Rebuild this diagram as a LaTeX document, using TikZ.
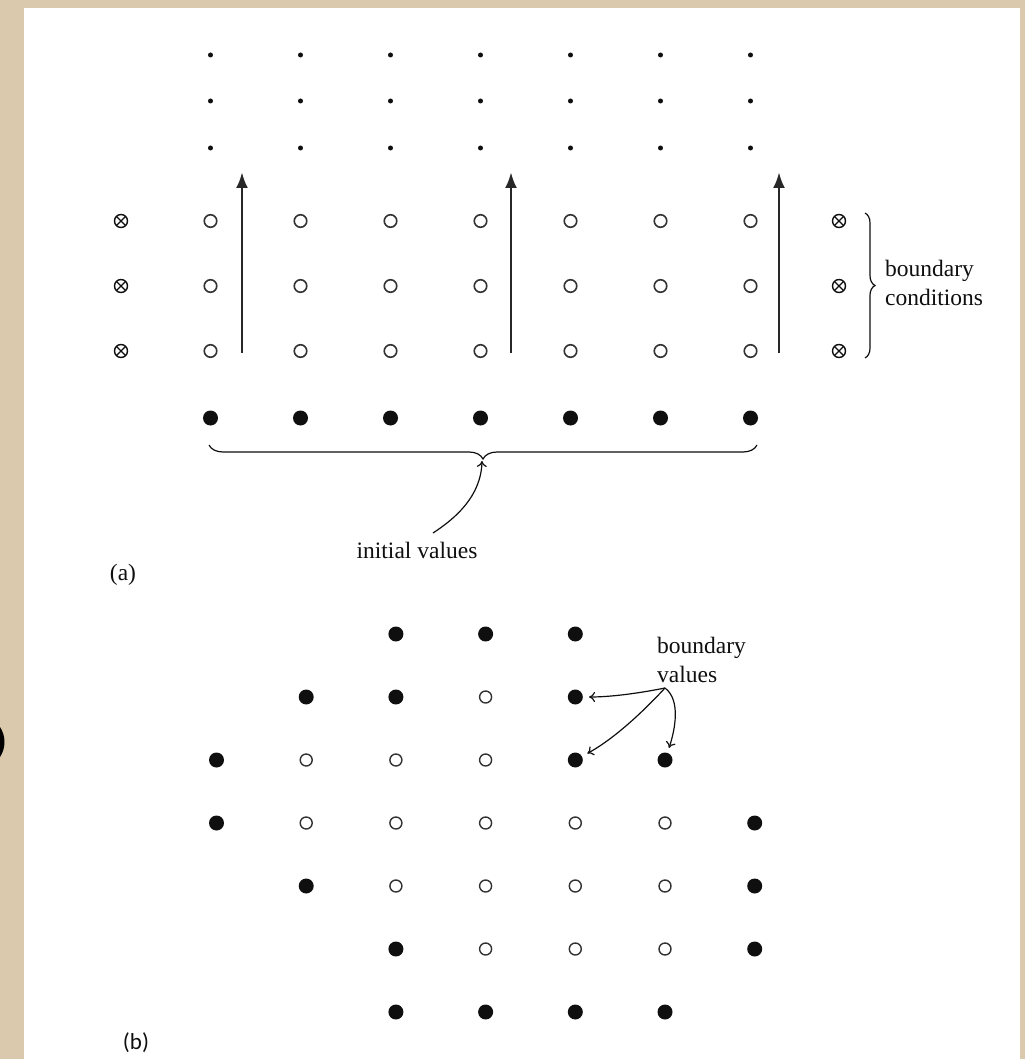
\documentclass[tikz,border=0pt]{standalone}
\usepackage{fontspec}
\setmainfont{Liberation Serif}
\newfontfamily\labfont{Carlito}
\usetikzlibrary{arrows.meta,decorations.pathreplacing}
\definecolor{beige}{RGB}{218,201,173}
\definecolor{ink}{RGB}{15,15,15}
\definecolor{ringc}{RGB}{50,50,50}
\begin{document}
\begin{tikzpicture}[x=1pt,y=-1pt,
  sdot/.style={circle,fill=ink,inner sep=0pt,minimum size=5pt},
  odot/.style={circle,draw=ringc,line width=1.6pt,inner sep=0pt,minimum size=12.5pt},
  fdot/.style={circle,fill=ink,inner sep=0pt,minimum size=15pt},
  odotb/.style={circle,draw=ringc,line width=1.4pt,inner sep=0pt,minimum size=12pt},
  xdot/.style={circle,draw=ink,line width=1.4pt,inner sep=0pt,minimum size=13pt,
    path picture={\draw[ink,line width=1.3pt] (path picture bounding box.north west) -- (path picture bounding box.south east)
      (path picture bounding box.north east) -- (path picture bounding box.south west);}},
  bigarrow/.style={draw=ink!90,line width=2.9pt,-{Latex[length=16pt,width=12pt]}},
  thinarrow/.style={draw=ink,line width=1.2pt,-{To[length=6pt,width=10pt]}},
  bracestyle/.style={draw=ink,line width=1.2pt,decorate},
  txt/.style={inner sep=0pt,font=\fontsize{23.5}{29}\selectfont,text=ink}
]
\fill[beige] (0,0) rectangle (1025,1059);
\fill[white] (23.5,8) rectangle (1020,1059);
\useasboundingbox (0,0) rectangle (1025,1059);
\fill[black] (0,727) .. controls (6,736) and (6,748) .. (0,757) -- cycle;

% ---------- part (a) ----------
\foreach \c in {0,...,6} {
  \foreach \r/\yy in {1/55,2/101,3/148}
    \node[sdot] (s\r-\c) at (210.5+90*\c,\yy) {};
  \foreach \r/\yy in {1/221,2/286,3/351}
    \node[odot] (o\r-\c) at (210.5+90*\c,\yy) {};
  \node[fdot] (f-\c) at (210.5+90*\c,418) {};
}
\foreach \r/\yy in {1/221,2/286,3/351} {
  \node[xdot] (xl\r) at (121,\yy) {};
  \node[xdot] (xr\r) at (839,\yy) {};
}
\foreach \i/\xx in {1/242,2/511,3/779} {
  \coordinate (ab\i) at (\xx,353);
  \coordinate (at\i) at (\xx,172);
  \draw[bigarrow] (ab\i) -- (at\i);
}
\draw[bracestyle,decoration={brace,mirror,amplitude=14pt}] (209,445) -- (757,445);
\coordinate (btip) at (482,461);
\draw[bracestyle,decoration={brace,amplitude=10pt}] (865,213) -- (865,358);
\node[txt,anchor=west,align=left] (bc) at (885,283) {boundary\\conditions};
\node[txt] (iv) at (417,550) {initial values};
\coordinate (ivs) at (433,533);
\draw[thinarrow] (ivs) .. controls (456,518) and (481,496) .. (btip);
\node[txt] (la) at (123,575) {(a)};

% ---------- part (b) ----------
\foreach \c in {2,3,4} \node[fdot] (b1-\c) at (216.5+89.7*\c,634) {};
\foreach \c in {1,2,4} \node[fdot] (b2-\c) at (216.5+89.7*\c,697) {};
\node[odotb] (b2-3) at (216.5+89.7*3,697) {};
\foreach \c in {0,4,5} \node[fdot] (b3-\c) at (216.5+89.7*\c,760) {};
\foreach \c in {1,2,3} \node[odotb] (b3-\c) at (216.5+89.7*\c,760) {};
\foreach \c in {0,6} \node[fdot] (b4-\c) at (216.5+89.7*\c,823) {};
\foreach \c in {1,...,5} \node[odotb] (b4-\c) at (216.5+89.7*\c,823) {};
\foreach \c in {1,6} \node[fdot] (b5-\c) at (216.5+89.7*\c,886) {};
\foreach \c in {2,...,5} \node[odotb] (b5-\c) at (216.5+89.7*\c,886) {};
\foreach \c in {2,6} \node[fdot] (b6-\c) at (216.5+89.7*\c,949) {};
\foreach \c in {3,4,5} \node[odotb] (b6-\c) at (216.5+89.7*\c,949) {};
\foreach \c in {2,...,5} \node[fdot] (b7-\c) at (216.5+89.7*\c,1012) {};

\node[txt,anchor=west,align=left] (bv) at (657,660) {boundary\\values};
\coordinate (bvo) at (665,688);
\draw[thinarrow,shorten >=6pt] (bvo) .. controls (640,693) and (612,697) .. (b2-4);
\draw[thinarrow,shorten >=6pt] (bvo) .. controls (640,715) and (612,740) .. (b3-4);
\draw[thinarrow,shorten >=5pt] (bvo) .. controls (681,700) and (675,730) .. (b3-5);
\node[txt,font=\labfont\fontsize{23}{29}\selectfont] (lb) at (136,1043) {(b)};
\end{tikzpicture}
\end{document}
